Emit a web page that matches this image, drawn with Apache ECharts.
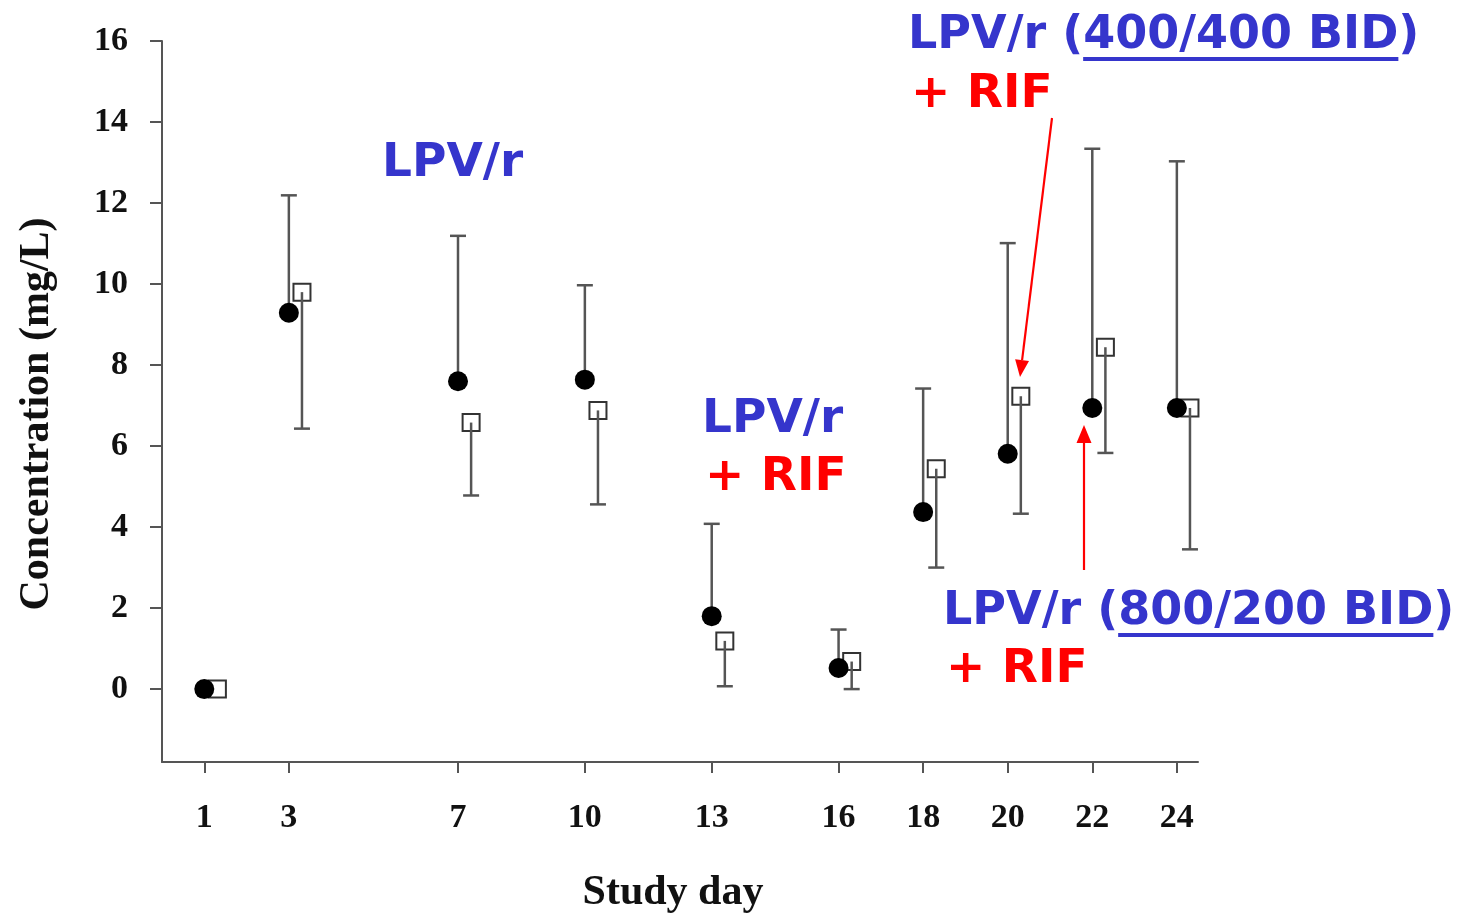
<!DOCTYPE html>
<html>
<head>
<meta charset="utf-8">
<script src="https://cdn.jsdelivr.net/npm/echarts@6/dist/echarts.min.js"></script>
<style>
html,body{margin:0;padding:0;background:#fff;overflow:hidden;}
#chart{width:1476px;height:915px;}
</style>
</head>
<body>
<div id="chart"></div>
<script>
// ---- data ----
const studyDays = [1, 3, 7, 10, 13, 16, 18, 20, 22, 24];
const circleMean = [0, 9.29, 7.60, 7.64, 1.80, 0.52, 4.37, 5.81, 6.94, 6.94];
const circleUpper = [null, 12.19, 11.19, 9.97, 4.08, 1.47, 7.42, 11.01, 13.34, 13.03];
const squareMean = [0, 9.80, 6.58, 6.88, 1.19, 0.68, 5.44, 7.23, 8.44, 6.94];
const squareLower = [null, 6.43, 4.78, 4.56, 0.07, 0.0, 3.00, 4.33, 5.83, 3.45];
const yTicks = [0, 2, 4, 6, 8, 10, 12, 14, 16];
const xAxisTitle = 'Study day';
const yAxisTitle = 'Concentration (mg/L)';
const noteLPV = 'LPV/r';
const noteRIF = '+ RIF';
const note400 = 'LPV/r (400/400 BID)';
const note800 = 'LPV/r (800/200 BID)';

// ---- presentation ----
const squareShift = 0.31;
const serif = '"Liberation Serif", "Times New Roman", serif';
const sans = '"DejaVu Sans", Verdana, sans-serif';
const blue = '#3535CC';
const red = '#FF0000';
const barColor = '#555';

const circleData = studyDays.map((d, i) => [d, circleMean[i]]);
const squareData = studyDays.map((d, i) => [d + squareShift, squareMean[i]]);
const circleBars = [];
const squareBars = [];
studyDays.forEach((d, i) => {
  if (circleUpper[i] != null) circleBars.push([d, circleMean[i], circleUpper[i]]);
  if (squareLower[i] != null) squareBars.push([d + squareShift, squareMean[i], squareLower[i]]);
});

function errRender(params, api) {
  const x = api.value(0), y0 = api.value(1), y1 = api.value(2);
  const p0 = api.coord([x, y0]);
  const p1 = api.coord([x, y1]);
  const hw = 8;
  return {
    type: 'group',
    children: [
      {type: 'line', shape: {x1: p0[0], y1: p0[1], x2: p1[0], y2: p1[1]}, style: {stroke: barColor, lineWidth: 2.5}},
      {type: 'line', shape: {x1: p1[0] - hw, y1: p1[1], x2: p1[0] + hw, y2: p1[1]}, style: {stroke: barColor, lineWidth: 2.5}}
    ]
  };
}

// text measurement for underlines
const ctx = document.createElement('canvas').getContext('2d');
function fontOf(size) { return 'bold ' + size + 'px ' + sans; }
function tw(s, size) { ctx.font = fontOf(size); return ctx.measureText(s).width; }

function noteText(text, x, y, color, size) {
  return {
    type: 'text', z: 100,
    style: {text: text, x: x, y: y, fill: color, font: fontOf(size),
      fontSize: size, fontWeight: 'bold', fontFamily: sans,
      align: 'left', verticalAlign: 'middle', textAlign: 'left', textVerticalAlign: 'middle'}
  };
}
function underline(prefix, inner, x, y, size) {
  const x0 = x + tw(prefix, size);
  const x1 = x0 + tw(inner, size);
  return {type: 'rect', z: 100, shape: {x: x0, y: y, width: x1 - x0, height: 4}, style: {fill: blue}};
}
function arrow(xs, ys, xt, yt, headLen, headW) {
  const dx = xt - xs, dy = yt - ys;
  const L = Math.sqrt(dx * dx + dy * dy);
  const ux = dx / L, uy = dy / L;
  const bx = xt - ux * headLen, by = yt - uy * headLen;
  const px = -uy, py = ux;
  return [
    {type: 'line', z: 100, shape: {x1: xs, y1: ys, x2: bx, y2: by}, style: {stroke: red, lineWidth: 2.2}},
    {type: 'polygon', z: 100, shape: {points: [[xt, yt], [bx + px * headW / 2, by + py * headW / 2], [bx - px * headW / 2, by - py * headW / 2]]}, style: {fill: red}}
  ];
}

const big = 47, long = 46;
const topX = 908, topY = 36;
const botX = 943, botY = 612;

const graphics = [
  noteText(noteLPV, 382, 164, blue, big),
  noteText(noteLPV, 702, 420, blue, big),
  noteText(noteRIF, 705, 478, red, big),
  noteText(note400, topX, topY, blue, long),
  underline('LPV/r (', '400/400 BID', topX, topY + 21, long),
  noteText(noteRIF, topX + 3, 95, red, big),
  noteText(note800, botX, botY, blue, long),
  underline('LPV/r (', '800/200 BID', botX, botY + 21, long),
  noteText(noteRIF, botX + 3, 670, red, big)
].concat(arrow(1052, 118, 1020, 377, 17, 14)).concat(arrow(1084, 570, 1084, 425, 18, 15));

const chart = echarts.init(document.getElementById('chart'));
chart.setOption({
  backgroundColor: '#fff',
  animation: false,
  grid: {left: 162, right: 278, top: 41, bottom: 153, containLabel: false, outerBoundsMode: 'none'},
  xAxis: {
    type: 'value', min: 0, max: 24.5,
    name: xAxisTitle, nameLocation: 'middle', nameGap: 110,
    nameTextStyle: {fontFamily: serif, fontWeight: 'bold', fontSize: 42, color: '#111', padding: [0, 14, 0, 0]},
    axisLine: {show: true, onZero: false, lineStyle: {color: barColor, width: 2}},
    axisTick: {show: true, customValues: studyDays, length: 11, lineStyle: {color: barColor, width: 2}},
    axisLabel: {customValues: studyDays, margin: 39, fontFamily: serif, fontWeight: 'bold', fontSize: 34, color: '#111'},
    splitLine: {show: false}
  },
  yAxis: {
    type: 'value', min: -1.8, max: 16,
    name: yAxisTitle, nameLocation: 'middle', nameGap: 104, nameRotate: 90,
    nameTextStyle: {fontFamily: serif, fontWeight: 'bold', fontSize: 42, color: '#111', padding: [0, 25, 0, 0]},
    axisLine: {show: true, onZero: false, lineStyle: {color: barColor, width: 2}},
    axisTick: {show: true, customValues: yTicks, length: 12, lineStyle: {color: barColor, width: 2}},
    axisLabel: {customValues: yTicks, margin: 34, fontFamily: serif, fontWeight: 'bold', fontSize: 34, color: '#111'},
    splitLine: {show: false}
  },
  series: [
    {name: 'Open squares', type: 'scatter', z: 2, data: squareData, symbol: 'rect', symbolSize: 17,
      itemStyle: {color: '#fff', borderColor: '#333', borderWidth: 2, opacity: 1}},
    {name: 'Square error', type: 'custom', z: 3, data: squareBars, renderItem: errRender, encode: {x: 0, y: [1, 2]}},
    {name: 'Circle error', type: 'custom', z: 3, data: circleBars, renderItem: errRender, encode: {x: 0, y: [1, 2]}},
    {name: 'Filled circles', type: 'scatter', z: 4, data: circleData, symbol: 'circle', symbolSize: 20,
      itemStyle: {color: '#000', opacity: 1}}
  ],
  graphic: graphics
});
</script>
</body>
</html>
